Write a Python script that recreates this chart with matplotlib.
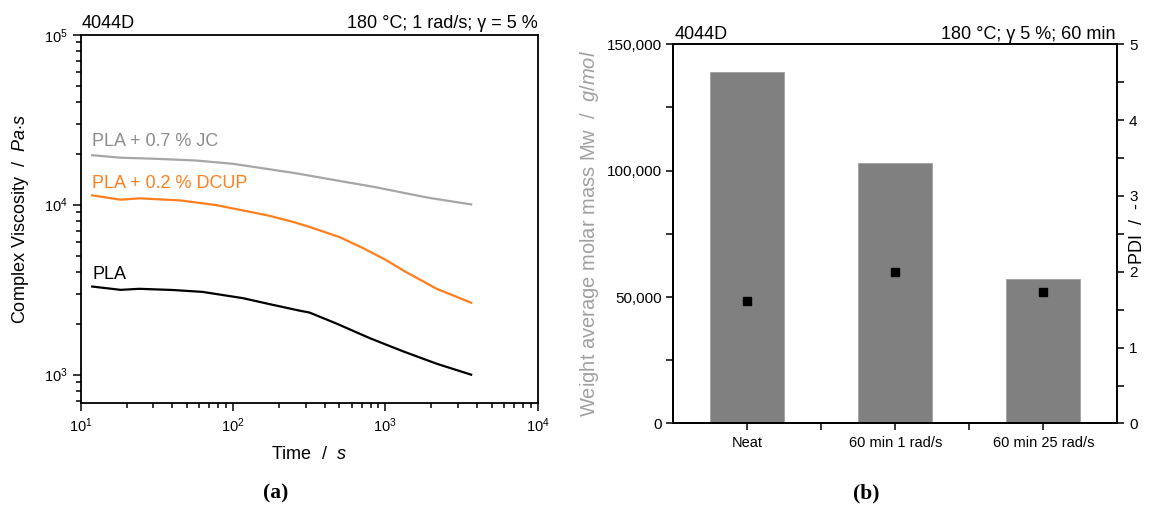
import matplotlib
matplotlib.use("Agg")
import matplotlib.pyplot as plt
from matplotlib.ticker import LogLocator, NullFormatter, MultipleLocator, FuncFormatter, FixedLocator
import numpy as np

plt.rcParams['font.family'] = ['Liberation Sans', 'DejaVu Sans']
plt.rcParams['mathtext.fontset'] = 'custom'
plt.rcParams['mathtext.rm'] = 'Liberation Sans'
plt.rcParams['mathtext.it'] = 'Liberation Sans:italic'
plt.rcParams['mathtext.bf'] = 'Liberation Sans:bold'

# ---------- data (a) ----------
t_jc = [11.9, 18.3, 29.7, 57, 100, 142, 260, 477, 875, 1313, 1963, 3660]
eta_jc = [19550, 18900, 18650, 18200, 17400, 16600, 15300, 13900, 12650, 11750, 10950, 10040]

t_dcup = [11.9, 18.3, 24.2, 45, 77.4, 120, 174, 250, 318, 420, 500, 715, 1000, 1313, 2173, 3660]
eta_dcup = [11350, 10700, 10900, 10600, 9950, 9200, 8600, 7900, 7400, 6800, 6450, 5550, 4750, 4100, 3200, 2650]

t_pla = [11.9, 18.3, 24.2, 40, 63, 116, 174, 274, 318, 477, 791, 1313, 2173, 3660]
eta_pla = [3300, 3155, 3200, 3150, 3070, 2820, 2600, 2380, 2320, 2000, 1640, 1370, 1160, 1000]

series_labels = ["PLA + 0.7 % JC", "PLA + 0.2 % DCUP", "PLA"]

# ---------- data (b) ----------
categories = ["Neat", "60 min 1 rad/s", "60 min 25 rad/s"]
mw = [139200, 103000, 57300]
pdi = [1.62, 2.0, 1.73]

c_gray = "#a6a6a6"
c_gray_txt = "#8c8c8c"
c_orange = "#ff7f1e"
c_black = "#000000"

fig = plt.figure(figsize=(11.51, 5.09), dpi=100)

# ---------------- (a) ----------------
ax1 = fig.add_axes([0.0701, 0.2088, 0.3970, 0.7230])
ax1.plot(t_jc, eta_jc, color=c_gray, lw=1.6)
ax1.plot(t_dcup, eta_dcup, color=c_orange, lw=1.6)
ax1.plot(t_pla, eta_pla, color=c_black, lw=1.6)
ax1.set_xscale('log')
ax1.set_yscale('log')
ax1.set_xlim(10, 1e4)
ax1.set_ylim(684, 1e5)
ax1.xaxis.set_major_locator(LogLocator(base=10, numticks=10))
ax1.xaxis.set_minor_locator(LogLocator(base=10, subs=np.arange(2, 10), numticks=20))
ax1.yaxis.set_major_locator(LogLocator(base=10, numticks=10))
ax1.yaxis.set_minor_locator(LogLocator(base=10, subs=np.arange(2, 10), numticks=20))
ax1.xaxis.set_minor_formatter(NullFormatter())
ax1.yaxis.set_minor_formatter(NullFormatter())
ax1.tick_params(which='both', direction='out', top=False, right=False, width=1.1, labelsize=10.5)
ax1.tick_params(which='major', length=6)
ax1.tick_params(which='minor', length=3.5)
for s in ax1.spines.values():
    s.set_linewidth(1.3)
ax1.set_xlabel(r"Time  /  $\it{s}$", fontsize=13, labelpad=8)
ax1.set_ylabel(r"Complex Viscosity  /  $\it{Pa{\cdot}s}$", fontsize=13, labelpad=9)
ax1.text(0.003, 1.008, "4044D", transform=ax1.transAxes, ha='left', va='bottom', fontsize=13)
ax1.text(1.0, 1.008, "180 °C; 1 rad/s; γ = 5 %", transform=ax1.transAxes, ha='right', va='bottom', fontsize=13)
ax1.text(t_jc[0], 22200, series_labels[0], color=c_gray_txt, fontsize=13, ha='left', va='baseline')
ax1.text(t_dcup[0], 12540, series_labels[1], color=c_orange, fontsize=13, ha='left', va='baseline')
ax1.text(t_pla[0], 3660, series_labels[2], color=c_black, fontsize=13, ha='left', va='baseline')

# ---------------- (b) ----------------
ax2 = fig.add_axes([0.5851, 0.1680, 0.3856, 0.7450])
x = np.arange(len(categories))
ax2.bar(x, mw, width=0.5, color="#808080", edgecolor="#a0a0a0", linewidth=0.6, zorder=2)
ax2.set_xlim(-0.5, 2.5)
ax2.set_ylim(0, 150000)
ax2.yaxis.set_major_locator(MultipleLocator(50000))
ax2.yaxis.set_minor_locator(MultipleLocator(25000))
ax2.yaxis.set_major_formatter(FuncFormatter(lambda v, p: f"{int(v):,}"))
ax2.set_xticks(x)
ax2.set_xticklabels(categories, fontsize=10.5)
ax2.xaxis.set_minor_locator(FixedLocator([0.5, 1.5]))
ax2.tick_params(which='both', direction='out', top=False, right=False, width=1.1)
ax2.tick_params(axis='y', labelsize=11)
ax2.tick_params(which='major', length=5)
ax2.tick_params(which='minor', length=5)
ax2.tick_params(axis='x', which='major', pad=4)
ax2.set_ylabel(r"Weight average molar mass Mw  /  $\it{g/mol}$", fontsize=14.5, color="#a0a0a0", labelpad=4)
for s in ax2.spines.values():
    s.set_linewidth(1.3)

ax3 = ax2.twinx()
ax3.plot(x, pdi, linestyle='none', marker='s', markersize=5.5, color='black', zorder=5)
ax3.set_ylim(0, 5)
ax3.yaxis.set_major_locator(MultipleLocator(1))
ax3.yaxis.set_minor_locator(MultipleLocator(0.5))
ax3.tick_params(which='both', direction='out', width=1.1, labelsize=11)
ax3.tick_params(which='major', length=5)
ax3.tick_params(which='minor', length=5)
ax3.set_ylabel("PDI  /  -", fontsize=13)
ax3.yaxis.set_label_coords(1.027, 0.5)
for s in ax3.spines.values():
    s.set_linewidth(1.3)

ax2.text(0.003, 1.004, "4044D", transform=ax2.transAxes, ha='left', va='bottom', fontsize=13)
ax2.text(0.995, 1.004, "180 °C; γ 5 %; 60 min", transform=ax2.transAxes, ha='right', va='bottom', fontsize=13)

# captions
fig.text(276 / 1151, 1 - 493 / 509, "(a)", ha='center', va='center', fontsize=15.5,
         family=['Liberation Serif', 'DejaVu Serif'], weight='bold')
fig.text(866 / 1151, 1 - 493 / 509, "(b)", ha='center', va='center', fontsize=15.5,
         family=['Liberation Serif', 'DejaVu Serif'], weight='bold')

fig.savefig("out.png", dpi=100)
